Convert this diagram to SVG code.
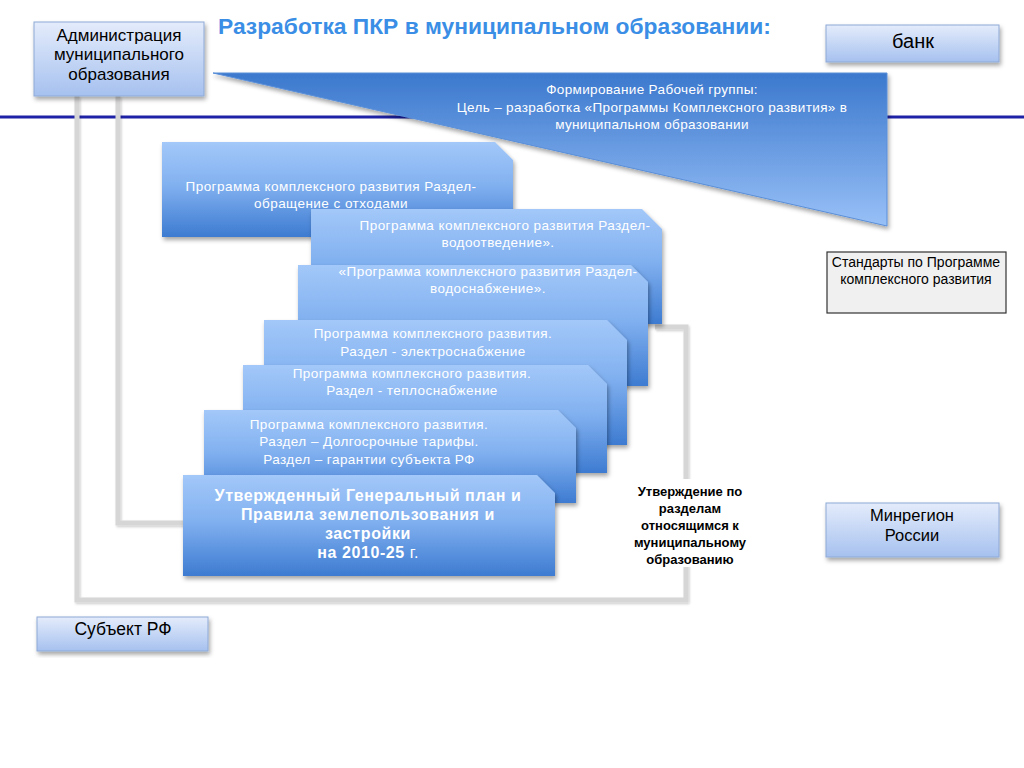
<svg xmlns="http://www.w3.org/2000/svg" width="1024" height="768" viewBox="0 0 1024 768">
<defs>
<linearGradient id="gBlock" x1="0" y1="0" x2="0" y2="1">
<stop offset="0" stop-color="#a3c8f9"/>
<stop offset="0.45" stop-color="#82b1f0"/>
<stop offset="1" stop-color="#3d7bd1"/>
</linearGradient>
<linearGradient id="gTri" x1="0" y1="0" x2="0" y2="1">
<stop offset="0" stop-color="#3b78cd"/>
<stop offset="1" stop-color="#98c0f7"/>
</linearGradient>
<linearGradient id="gBox" x1="0" y1="0" x2="0" y2="1">
<stop offset="0" stop-color="#e4ecfb"/>
<stop offset="1" stop-color="#a6c1ef"/>
</linearGradient>
<filter id="sh" x="-10%" y="-10%" width="125%" height="130%">
<feDropShadow dx="1.5" dy="3" stdDeviation="2" flood-color="#000" flood-opacity="0.35"/>
</filter>
<filter id="shl" x="-10%" y="-10%" width="125%" height="130%">
<feDropShadow dx="1" dy="1.5" stdDeviation="1" flood-color="#000" flood-opacity="0.2"/>
</filter>
</defs>
<style>
.t{font-family:"Liberation Sans",Arial,sans-serif;}
.box{fill:url(#gBox);stroke:#8ea9d6;stroke-width:1;filter:url(#sh);}
.blk{fill:url(#gBlock);filter:url(#sh);}
.bt{font-family:"Liberation Sans",Arial,sans-serif;font-size:13.5px;letter-spacing:0.45px;fill:#ffffff;text-anchor:middle;}
.tri{letter-spacing:0.35px;}
.bb{font-size:16px;font-weight:bold;letter-spacing:0.6px;}
.b16{font-size:16px;letter-spacing:0.4px;}
.nt{font-family:"Liberation Sans",Arial,sans-serif;font-size:17px;fill:#000;text-anchor:middle;}
.n20{font-size:20px;}
.n165{font-size:16.5px;}
.n175{font-size:17.5px;}
.at{font-family:"Liberation Sans",Arial,sans-serif;font-size:13px;font-weight:bold;fill:#000;text-anchor:middle;}
.con{fill:none;stroke:#d6d6d6;stroke-width:5;filter:url(#shl);}
</style>
<rect width="1024" height="768" fill="#ffffff"/>

<line x1="0" y1="117" x2="1024" y2="117" stroke="#1e22a6" stroke-width="3"/>

<g id="connectors">
<path class="con" d="M77,96 V600 H686 V327 H655"/>
<path class="con" d="M118,96 V523 H190"/>
<path class="con" d="M903,74 V250"/>
<path class="con" d="M903,343 V502"/>
</g>

<text class="t" x="218" y="34" font-size="22.8" font-weight="bold" fill="#3b8ee5">Разработка ПКР в муниципальном образовании:</text>

<g id="workgroup">
<polygon points="213,73 887,73 887,226" fill="url(#gTri)" stroke="#5a8fd8" stroke-width="1" filter="url(#sh)"/>
<text class="bt tri" x="652" y="94">Формирование Рабочей группы:</text>
<text class="bt tri" x="652" y="112">Цель – разработка «Программы Комплексного развития» в</text>
<text class="bt tri" x="652" y="129">муниципальном образовании</text>
</g>

<g id="admin">
<rect class="box" x="34" y="22" width="170" height="74"/>
<text class="nt" x="119" y="41">Администрация</text>
<text class="nt" x="119" y="60">муниципального</text>
<text class="nt" x="119" y="80">образования</text>
</g>

<g id="bank">
<rect class="box" x="826" y="25" width="173" height="37"/>
<text class="nt n20" x="913" y="48">банк</text>
</g>

<g id="standards">
<rect x="827" y="252" width="179" height="61" fill="#f0f0f0" stroke="#333333" stroke-width="1.2"/>
<text class="t" x="916" y="267" font-size="14" text-anchor="middle">Стандарты по Программе</text>
<text class="t" x="916" y="284" font-size="14" text-anchor="middle">комплексного развития</text>
</g>

<g id="minregion">
<rect class="box" x="826" y="503" width="173" height="54"/>
<text class="nt n165" x="912" y="521">Минрегион</text>
<text class="nt n165" x="912" y="541">России</text>
</g>

<g id="subject">
<rect class="box" x="37" y="617" width="171" height="34"/>
<text class="nt n175" x="123" y="635">Субъект РФ</text>
</g>

<g id="block-waste">
<path class="blk" d="M162,142 H495 L513,160 V237 H162 Z"/>
<text class="bt" x="331" y="191">Программа комплексного развития Раздел-</text>
<text class="bt" x="331" y="208">обращение с отходами</text>
</g>

<g id="block-sewage">
<path class="blk" d="M311,209 H642 L662,229 V324 H311 Z"/>
<text class="bt" x="505" y="230">Программа комплексного развития Раздел-</text>
<text class="bt" x="498" y="247">водоотведение».</text>
</g>

<g id="block-water">
<path class="blk" d="M298,265 H631 L648,282 V386 H298 Z"/>
<text class="bt" x="488" y="276">«Программа комплексного развития Раздел-</text>
<text class="bt" x="488" y="293">водоснабжение».</text>
</g>

<g id="block-electric">
<path class="blk" d="M264,320 H607 L627,340 V445 H264 Z"/>
<text class="bt" x="433" y="338">Программа комплексного развития.</text>
<text class="bt" x="433" y="356">Раздел - электроснабжение</text>
</g>

<g id="block-heat">
<path class="blk" d="M243,365 H588 L607,384 V473 H243 Z"/>
<text class="bt" x="412" y="378">Программа комплексного развития.</text>
<text class="bt" x="412" y="395">Раздел - теплоснабжение</text>
</g>

<g id="block-tariffs">
<path class="blk" d="M204,410 H558 L576,428 V503 H204 Z"/>
<text class="bt" x="369" y="429">Программа комплексного развития.</text>
<text class="bt" x="369" y="446">Раздел – Долгосрочные тарифы.</text>
<text class="bt" x="369" y="464">Раздел – гарантии субъекта РФ</text>
</g>

<g id="block-genplan">
<path class="blk" d="M183,475 H537 L555,493 V576 H183 Z"/>
<text class="bt bb" x="368" y="501">Утвержденный Генеральный план и</text>
<text class="bt bb" x="368" y="520">Правила землепользования и</text>
<text class="bt bb" x="368" y="539">застройки</text>
<text class="bt b16" x="368" y="558"><tspan class="bb">на 2010-25</tspan> г.</text>
</g>

<g id="approval">
<rect x="626" y="479" width="128" height="88" fill="#ffffff"/>
<text class="at" x="690" y="496">Утверждение по</text>
<text class="at" x="690" y="513">разделам</text>
<text class="at" x="690" y="530">относящимся к</text>
<text class="at" x="690" y="547">муниципальному</text>
<text class="at" x="690" y="564">образованию</text>
</g>
</svg>
